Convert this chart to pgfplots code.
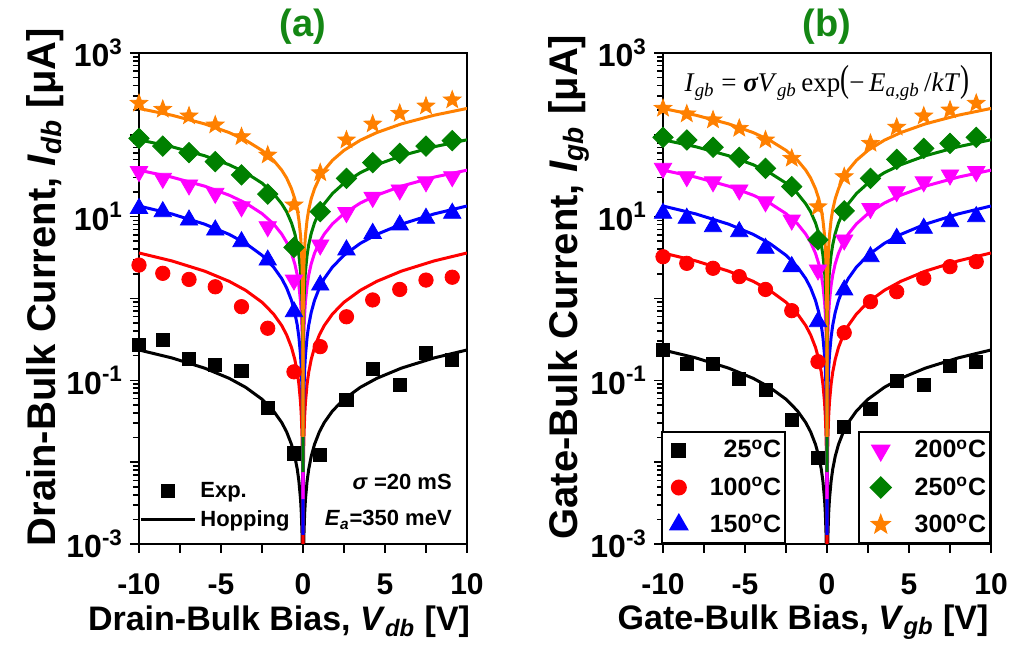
\documentclass[border=0pt]{standalone}
\usepackage{fontspec}
\setmainfont{Liberation Sans}
\newfontfamily\tnr{Liberation Serif}
\usepackage{graphicx}
\usepackage{pgfplots}
\usepackage{pgfplotstable}
\pgfplotsset{compat=1.18}
\usetikzlibrary{plotmarks}

\definecolor{cO}{RGB}{255,128,0}
\definecolor{cG}{RGB}{0,128,0}
\definecolor{cM}{RGB}{255,0,255}
\definecolor{cB}{RGB}{0,0,255}
\definecolor{cR}{RGB}{255,0,0}
\definecolor{cT}{RGB}{20,135,20}

\pgfdeclareplotmark{fstar}{%
  \pgfpathmoveto{\pgfpointpolar{90}{\pgfplotmarksize}}%
  \pgfpathlineto{\pgfpointpolar{126}{0.42\pgfplotmarksize}}%
  \pgfpathlineto{\pgfpointpolar{162}{\pgfplotmarksize}}%
  \pgfpathlineto{\pgfpointpolar{198}{0.42\pgfplotmarksize}}%
  \pgfpathlineto{\pgfpointpolar{234}{\pgfplotmarksize}}%
  \pgfpathlineto{\pgfpointpolar{270}{0.42\pgfplotmarksize}}%
  \pgfpathlineto{\pgfpointpolar{306}{\pgfplotmarksize}}%
  \pgfpathlineto{\pgfpointpolar{342}{0.42\pgfplotmarksize}}%
  \pgfpathlineto{\pgfpointpolar{18}{\pgfplotmarksize}}%
  \pgfpathlineto{\pgfpointpolar{54}{0.42\pgfplotmarksize}}%
  \pgfpathclose
  \pgfusepathqfillstroke}

\pgfplotsset{
  legP/.style={legend image code/.code={\path[draw=none,fill=none] (0pt,0pt) (27pt,0pt); \draw[##1] plot coordinates {(13.5pt,0pt)};}},
  legL/.style={legend image code/.code={\draw[##1] (0pt,0pt) -- (27pt,0pt);}},
  legA/.style={legend image code/.code={\path[draw=none,fill=none] (0pt,0pt) (22pt,0pt); \draw[##1] plot coordinates {(8.5pt,0pt)};}},
  legB/.style={legend image code/.code={\path[draw=none,fill=none] (0pt,0pt) (26pt,0pt); \draw[##1] plot coordinates {(11pt,0pt)};}},
}

% Hopping fits
\pgfplotstableread{
V o g m b r k
-10 210 87 37 13.5 3.6 0.235
-8 173.7 71.5 30.4 10.8 2.88 0.188
-6 136.1 55.5 23.6 8.1 2.16 0.141
-4.5 106.5 43.1 18.3 6.075 1.62 0.10575
-3.5 86.0 34.5 14.7 4.725 1.26 0.08225
-2.5 64.6 25.7 10.9 3.375 0.9 0.05875
-1.8 48.9 19.2 8.18 2.43 0.648 0.0423
-1.3 37.1 14.4 6.14 1.755 0.468 0.03055
-1 29.7 11.5 4.88 1.35 0.36 0.0235
-0.7 21.9 8.38 3.56 0.945 0.252 0.01645
-0.5 16.5 6.23 2.65 0.675 0.18 0.01175
-0.35 12.2 4.55 1.94 0.4725 0.126 0.008225
-0.25 9.13 3.39 1.44 0.3375 0.09 0.005875
-0.15 5.92 2.16 0.919 0.2025 0.054 0.003525
-0.1 4.19 1.51 0.643 0.135 0.036 0.00235
-0.05 2.32 0.821 0.349 0.0675 0.018 0.001175
-0.02 1.07 0.367 0.156 0.027 0.0072 0.00047
-0.005 0.328 0.108 0.046 0.00675 0.0018 0.0001175
-0.001 0.0213 0.0079 0.0037 0.00135 0.00036 0.0000235
0.001 0.0213 0.0079 0.0037 0.00135 0.00036 0.0000235
0.005 0.328 0.108 0.046 0.00675 0.0018 0.0001175
0.02 1.07 0.367 0.156 0.027 0.0072 0.00047
0.05 2.32 0.821 0.349 0.0675 0.018 0.001175
0.1 4.19 1.51 0.643 0.135 0.036 0.00235
0.15 5.92 2.16 0.919 0.2025 0.054 0.003525
0.25 9.13 3.39 1.44 0.3375 0.09 0.005875
0.35 12.2 4.55 1.94 0.4725 0.126 0.008225
0.5 16.5 6.23 2.65 0.675 0.18 0.01175
0.7 21.9 8.38 3.56 0.945 0.252 0.01645
1 29.7 11.5 4.88 1.35 0.36 0.0235
1.3 37.1 14.4 6.14 1.755 0.468 0.03055
1.8 48.9 19.2 8.18 2.43 0.648 0.0423
2.5 64.6 25.7 10.9 3.375 0.9 0.05875
3.5 86.0 34.5 14.7 4.725 1.26 0.08225
4.5 106.5 43.1 18.3 6.075 1.62 0.10575
6 136.1 55.5 23.6 8.1 2.16 0.141
8 173.7 71.5 30.4 10.8 2.88 0.188
10 210 87 37 13.5 3.6 0.235
}\fits

% Experimental data, panel (a)
\pgfplotstableread{
x o g m b r k
-10 243 90.6 35.5 12.6 2.56 0.27
-8.55 205 72.9 29.4 11.5 2.03 0.311
-6.95 170 60.5 24.4 9.1 1.71 0.181
-5.35 132 47.0 19.3 6.87 1.39 0.154
-3.75 94.8 32.3 13.2 4.94 0.794 0.13
-2.15 56.6 18.9 7.53 2.95 0.433 0.0463
-0.55 13.9 4.22 1.68 0.69 0.127 0.0128
1.05 34.4 11.5 4.51 1.46 0.258 0.0122
2.65 86.5 29.4 11.2 3.92 0.598 0.0575
4.25 135.5 45.7 17.2 6.25 0.96 0.137
5.9 183 59.4 21.2 7.91 1.29 0.0877
7.5 225 72.9 26.7 9.55 1.68 0.214
9.1 267 84.7 30.8 11.0 1.82 0.177
}\datA

% Experimental data, panel (b)
\pgfplotstableread{
x o g m b r k
-10 211 93.3 39.0 11.0 3.24 0.235
-8.55 180 86.5 30.8 9.55 2.69 0.158
-6.95 152 70.5 26.7 7.53 2.34 0.158
-5.35 120 53.1 21.2 6.55 1.85 0.103
-3.75 86.5 39.0 15.2 4.1 1.29 0.0762
-2.15 51.6 23.3 9.1 2.45 0.71 0.0327
-0.55 13.2 5.19 2.23 0.521 0.169 0.0113
1.05 30.8 11.8 5.19 1.27 0.382 0.0271
2.65 78.7 29.4 12.6 3.24 0.914 0.0443
4.25 124 50.2 20.2 5.43 1.21 0.0989
5.9 170 68.4 26.7 7.21 1.77 0.0877
7.5 201 78.7 32.3 8.67 2.45 0.15
9.1 243 93.3 35.5 10.0 2.82 0.169
}\datB

\begin{document}
\begin{tikzpicture}
\useasboundingbox (-69.5pt,-59pt) rectangle (439pt,272pt);
% ---------------- panel (a)
\begin{axis}[
    at={(0pt,0pt)}, anchor=south west,
    scale only axis, width=164pt, height=245.5pt,
    xmin=-10, xmax=10, ymode=log, ymin=1e-3, ymax=1e3,
    xtick={-10,-7.5,-5,-2.5,0,2.5,5,7.5,10},
    xticklabels={-10,{},-5,{},0,{},5,{},10},
    ytick={1e-3,1e-2,1e-1,1,1e1,1e2,1e3},
    yticklabels={10\textsuperscript{-3},{},10\textsuperscript{-1},{},10\textsuperscript{1},{},10\textsuperscript{3}},
    minor ytick={2e-3,3e-3,4e-3,5e-3,6e-3,7e-3,8e-3,9e-3,2e-2,3e-2,4e-2,5e-2,6e-2,7e-2,8e-2,9e-2,0.2,0.3,0.4,0.5,0.6,0.7,0.8,0.9,2,3,4,5,6,7,8,9,20,30,40,50,60,70,80,90,200,300,400,500,600,700,800,900},
    tick pos=left, tick align=outside,
    major tick length=4.5pt, minor tick length=3pt,
    axis line style={line width=0.9pt},
    tick style={black, line width=0.8pt},
    tick label style={font=\fontsize{16}{18}\selectfont\bfseries},
    xticklabel style={font=\fontsize{15}{17}\selectfont\bfseries, anchor=center, yshift=-15.5pt},
    xlabel style={font=\fontsize{17}{20}\selectfont\bfseries, at={(axis description cs:0.427,-0.159)}, anchor=center},
    ylabel style={font=\fontsize{20}{22}\selectfont\bfseries, at={(axis description cs:-0.287,0.523)}, anchor=center},
    title style={font=\fontsize{19}{21}\selectfont\bfseries, text=cT, at={(0.5,1)}, anchor=center, yshift=7pt},
    title={(a)},
    xlabel={Drain-Bulk Bias, \textit{V}\textsubscript{\textit{db}} [V]},
    ylabel={Drain-Bulk Current, \textit{I}\textsubscript{\textit{db}} [μA]},
    legend cell align=left,
    legend style={draw=none, fill=none, at={(0,0.021)}, anchor=south west, inner sep=0pt, row sep=1pt, font=\fontsize{11}{13}\selectfont\bfseries}]
\addlegendimage{only marks, black, mark=square*, mark size=3.3pt, legP}
\addlegendentry{Exp.}
\addlegendimage{black, line width=1.5pt, legL}
\addlegendentry{Hopping}
\addplot[black, line width=1.5pt, no markers, forget plot] table[x=V,y=k]{\fits};
\addplot[cR, line width=1.5pt, no markers, forget plot] table[x=V,y=r]{\fits};
\addplot[cB, line width=1.5pt, no markers, forget plot] table[x=V,y=b]{\fits};
\addplot[cM, line width=1.5pt, no markers, forget plot] table[x=V,y=m]{\fits};
\addplot[cG, line width=1.5pt, no markers, forget plot] table[x=V,y=g]{\fits};
\addplot[cO, line width=1.5pt, no markers, forget plot] table[x=V,y=o]{\fits};
\addplot[only marks, forget plot, black, mark=square*, mark size=3.3pt] table[x=x,y=k]{\datA};
\addplot[only marks, forget plot, cR, mark=*, mark size=3.6pt] table[x=x,y=r]{\datA};
\addplot[only marks, forget plot, cB, mark=triangle*, mark size=5pt] table[x=x,y=b]{\datA};
\addplot[only marks, forget plot, cM, mark=triangle*, mark size=5pt, mark options={rotate=180}] table[x=x,y=m]{\datA};
\addplot[only marks, forget plot, cG, mark=square*, mark size=3.6pt, mark options={rotate=45}] table[x=x,y=g]{\datA};
\addplot[only marks, forget plot, cO, mark=fstar, mark size=4.6pt] table[x=x,y=o]{\datA};
\node[anchor=east, font=\fontsize{11}{13}\selectfont\bfseries] at (rel axis cs:0.975,0.126) {\textit{σ} =20 mS};
\node[anchor=east, font=\fontsize{11}{13}\selectfont\bfseries] at (rel axis cs:0.975,0.049) {\textit{E}\textsubscript{\textit{a}}=350 meV};
\end{axis}
% ---------------- panel (b)
\begin{axis}[
    at={(262pt,0pt)}, anchor=south west,
    scale only axis, width=164pt, height=245.5pt,
    xmin=-10, xmax=10, ymode=log, ymin=1e-3, ymax=1e3,
    xtick={-10,-7.5,-5,-2.5,0,2.5,5,7.5,10},
    xticklabels={-10,{},-5,{},0,{},5,{},10},
    ytick={1e-3,1e-2,1e-1,1,1e1,1e2,1e3},
    yticklabels={10\textsuperscript{-3},{},10\textsuperscript{-1},{},10\textsuperscript{1},{},10\textsuperscript{3}},
    minor ytick={2e-3,3e-3,4e-3,5e-3,6e-3,7e-3,8e-3,9e-3,2e-2,3e-2,4e-2,5e-2,6e-2,7e-2,8e-2,9e-2,0.2,0.3,0.4,0.5,0.6,0.7,0.8,0.9,2,3,4,5,6,7,8,9,20,30,40,50,60,70,80,90,200,300,400,500,600,700,800,900},
    tick pos=left, tick align=outside,
    major tick length=4.5pt, minor tick length=3pt,
    axis line style={line width=0.9pt},
    tick style={black, line width=0.8pt},
    tick label style={font=\fontsize{16}{18}\selectfont\bfseries},
    xticklabel style={font=\fontsize{15}{17}\selectfont\bfseries, anchor=center, yshift=-15.5pt},
    xlabel style={font=\fontsize{17}{20}\selectfont\bfseries, at={(axis description cs:0.427,-0.159)}, anchor=center},
    ylabel style={font=\fontsize{20}{22}\selectfont\bfseries, at={(axis description cs:-0.287,0.523)}, anchor=center},
    title style={font=\fontsize{19}{21}\selectfont\bfseries, text=cT, at={(0.5,1)}, anchor=center, yshift=7pt},
    title={(b)},
    xlabel={Gate-Bulk Bias, \textit{V}\textsubscript{\textit{gb}} [V]},
    ylabel={Gate-Bulk Current, \textit{I}\textsubscript{\textit{gb}} [μA]},
    legend cell align=right,
    legend style={draw=black, line width=0.8pt, fill=white, at={(-0.006,0)}, anchor=south west, inner xsep=0pt, inner ysep=2pt, row sep=4pt, font=\fontsize{12.5}{14}\selectfont\bfseries}]
\addlegendimage{only marks, black, mark=square*, mark size=3.3pt, legA}
\addlegendentry{25\textsuperscript{o}C}
\addlegendimage{only marks, cR, mark=*, mark size=3.6pt, legA}
\addlegendentry{100\textsuperscript{o}C}
\addlegendimage{only marks, cB, mark=triangle*, mark size=5pt, legA}
\addlegendentry{150\textsuperscript{o}C}
\addplot[black, line width=1.5pt, no markers, forget plot] table[x=V,y=k]{\fits};
\addplot[cR, line width=1.5pt, no markers, forget plot] table[x=V,y=r]{\fits};
\addplot[cB, line width=1.5pt, no markers, forget plot] table[x=V,y=b]{\fits};
\addplot[cM, line width=1.5pt, no markers, forget plot] table[x=V,y=m]{\fits};
\addplot[cG, line width=1.5pt, no markers, forget plot] table[x=V,y=g]{\fits};
\addplot[cO, line width=1.5pt, no markers, forget plot] table[x=V,y=o]{\fits};
\addplot[only marks, forget plot, black, mark=square*, mark size=3.3pt] table[x=x,y=k]{\datB};
\addplot[only marks, forget plot, cR, mark=*, mark size=3.6pt] table[x=x,y=r]{\datB};
\addplot[only marks, forget plot, cB, mark=triangle*, mark size=5pt] table[x=x,y=b]{\datB};
\addplot[only marks, forget plot, cM, mark=triangle*, mark size=5pt, mark options={rotate=180}] table[x=x,y=m]{\datB};
\addplot[only marks, forget plot, cG, mark=square*, mark size=3.6pt, mark options={rotate=45}] table[x=x,y=g]{\datB};
\addplot[only marks, forget plot, cO, mark=fstar, mark size=4.6pt] table[x=x,y=o]{\datB};
\node[font=\tnr\fontsize{13.5}{15}\selectfont, anchor=center] at (rel axis cs:0.5,0.939)
  {\textit{I}\textsubscript{\textit{gb}} = \textit{\textbf{σ}V}\textsubscript{\textit{gb}}\,exp\scalebox{1}[1.4]{(}−\,\textit{E}\textsubscript{\textit{a,gb}}\,/\textit{kT}\scalebox{1}[1.4]{)}};
\end{axis}
% second legend box of panel (b)
\begin{axis}[
    at={(262pt,0pt)}, anchor=south west,
    scale only axis, width=164pt, height=245.5pt,
    xmin=-10, xmax=10, ymode=log, ymin=1e-3, ymax=1e3,
    hide axis,
    legend cell align=right,
    legend style={draw=black, line width=0.8pt, fill=white, at={(1,0)}, anchor=south east, inner xsep=0pt, inner ysep=2pt, row sep=4pt, font=\fontsize{12.5}{14}\selectfont\bfseries}]
\addlegendimage{only marks, cM, mark=triangle*, mark size=5pt, mark options={rotate=180}, legB}
\addlegendentry{200\textsuperscript{o}C}
\addlegendimage{only marks, cG, mark=square*, mark size=3.6pt, mark options={rotate=45}, legB}
\addlegendentry{250\textsuperscript{o}C}
\addlegendimage{only marks, cO, mark=fstar, mark size=4.6pt, legB}
\addlegendentry{300\textsuperscript{o}C}
\end{axis}
\end{tikzpicture}
\end{document}
